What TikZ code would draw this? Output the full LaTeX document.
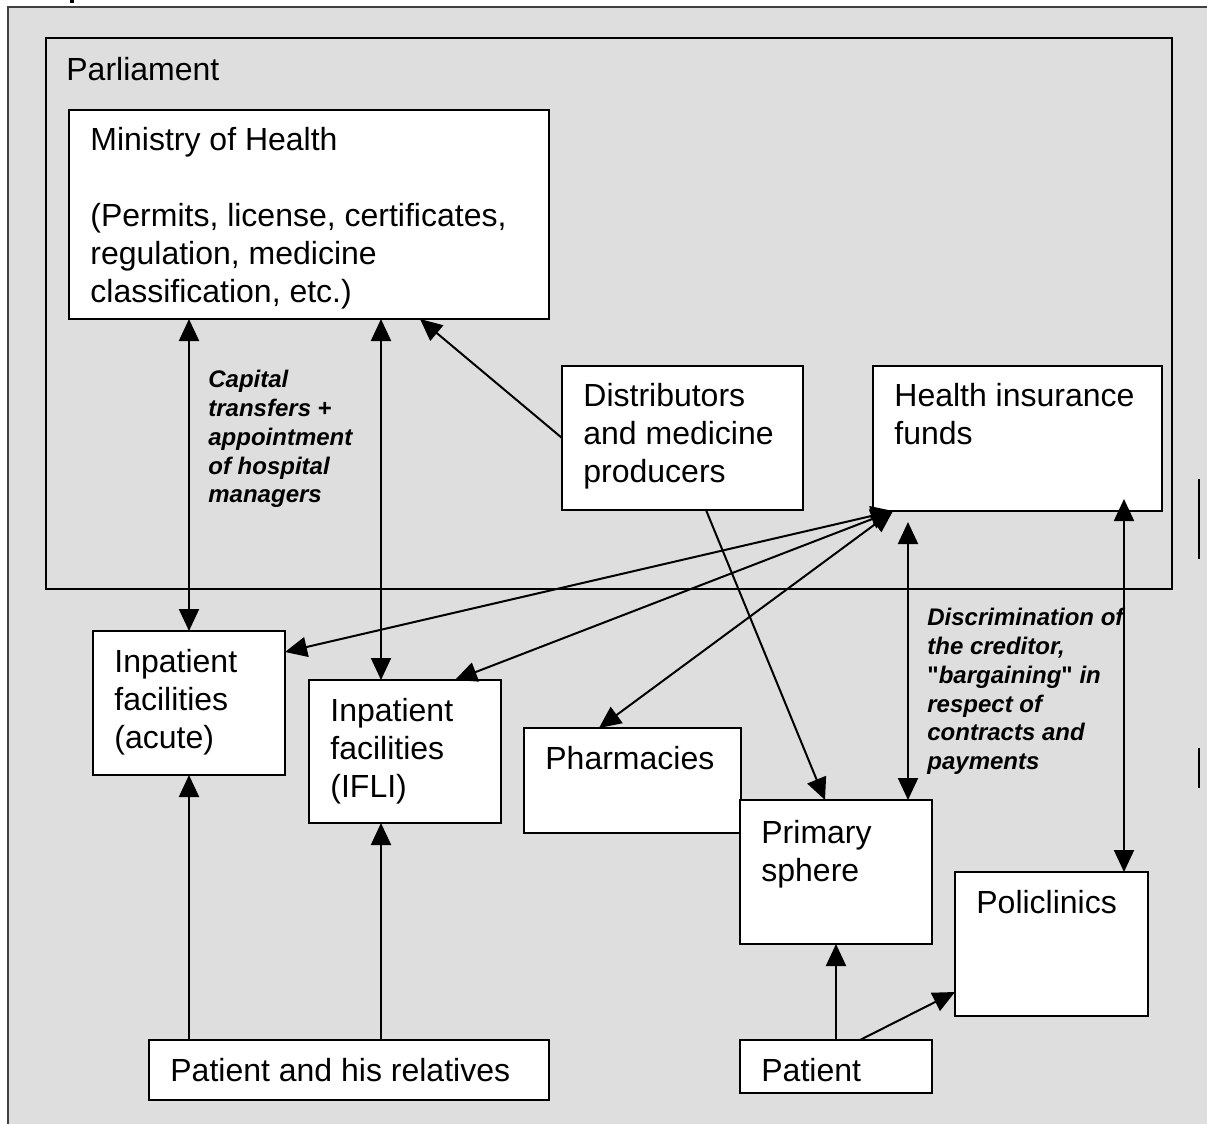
\documentclass[tikz,border=0pt]{standalone}
\usepackage{fontspec}
\setmainfont{Liberation Sans}
\usetikzlibrary{arrows.meta,calc}
\definecolor{bggray}{RGB}{222,222,222}
\definecolor{framegray}{RGB}{64,64,64}
\begin{document}
\begin{tikzpicture}[x=0.5pt,y=-0.5pt,
  box/.style={draw=black, line width=1pt, fill=white, anchor=north west, inner sep=0pt, outer sep=0pt},
  txt/.style={font=\fontsize{16}{19}\selectfont, align=left, inner sep=0pt, anchor=north west},
  lbl/.style={font=\fontsize{12}{14.4}\selectfont\bfseries\itshape, align=left, inner sep=0pt, anchor=north west},
  conn/.style={line width=1pt, draw=black},
  tip/.style={-{Triangle[length=11pt,width=10pt]}},
  dtip/.style={{Triangle[length=11pt,width=10pt]}-{Triangle[length=11pt,width=10pt]}}]
\useasboundingbox (0,0) rectangle (1207,1124);
\clip (0,0) rectangle (1207,1124);
% outer frame
\fill[white] (0,0) rectangle (1207,1124);
\draw[fill=bggray, draw=framegray, line width=1pt] (8,7) rectangle (1230,1150);
\fill[black] (70,0) rectangle (74,3);
% right-edge marks
\draw[line width=1pt] (1199,479) -- (1199,559);
\draw[line width=1pt] (1199,748) -- (1199,788);
% Parliament
\node[box, fill=none, minimum width=563pt, minimum height=275.5pt] (parl) at (46,38) {};
\node[txt] (parlt) at (66,57) {Parliament};
% boxes
\node[box, minimum width=240pt, minimum height=104.5pt] (moh) at (69,110) {};
\node[txt] (moht) at (90,127) {Ministry of Health\\[19pt](Permits, license, certificates,\\regulation, medicine\\classification, etc.)};
\node[box, minimum width=120.5pt, minimum height=72pt] (dist) at (562,366) {};
\node[txt] (distt) at (583,383) {Distributors\\and medicine\\producers};
\node[box, minimum width=144.5pt, minimum height=72.5pt] (hif) at (873,366) {};
\node[txt] (hift) at (894,383) {Health insurance\\funds};
\node[box, minimum width=96pt, minimum height=72pt] (acute) at (93,631) {};
\node[txt] (acutet) at (114,649) {Inpatient\\facilities\\(acute)};
\node[box, minimum width=96pt, minimum height=71.5pt] (ifli) at (309,680) {};
\node[txt] (iflit) at (330,698) {Inpatient\\facilities\\(IFLI)};
\node[box, minimum width=108.5pt, minimum height=52.5pt] (pharm) at (524,728) {};
\node[txt] (pharmt) at (545,746) {Pharmacies};
\node[box, minimum width=96pt, minimum height=72pt] (prim) at (740,800) {};
\node[txt] (primt) at (761,820) {Primary\\sphere};
\node[box, minimum width=96.5pt, minimum height=72pt] (pol) at (955,872) {};
\node[txt] (polt) at (976,890) {Policlinics};
\node[box, minimum width=200pt, minimum height=30pt] (pahr) at (149,1040) {};
\node[txt] (pahrt) at (170,1058) {Patient and his relatives};
\node[box, minimum width=96pt, minimum height=26.5pt] (pat) at (740,1040) {};
\node[txt] (patt) at (761,1058) {Patient};
% labels
\node[lbl] (capl) at (208,370) {Capital\\transfers {\upshape+}\\appointment\\of hospital\\managers};
\node[lbl] (discl) at (927,608) {Discrimination of\\the creditor,\\{\upshape\textquotedbl}bargaining{\upshape\textquotedbl} in\\respect of\\contracts and\\payments};
% coordinates
\coordinate (i1) at ($(ifli.north west)+(72,0)$);
\coordinate (hifc) at ($(hif.south west)+(20,0)$);
\coordinate (mohin) at ($(moh.south west)+(351,0)$);
\coordinate (distb) at ($(dist.south west)+(144,0)$);
\coordinate (primt) at ($(prim.north west)+(85,0)$);
\coordinate (hifp) at ($(hif.south west)+(35,11)$);
\coordinate (hifq) at ($(hif.south east)+(-38,-12)$);
\coordinate (patr) at ($(pat.north west)+(120,0)$);
% connectors
\draw[conn,dtip] (acute.north |- moh.south) -- (acute.north);
\draw[conn,dtip] (i1 |- moh.south) -- (i1);
\draw[conn,tip] (dist.west) -- (mohin);
\draw[conn,dtip] (hifc) -- ($(acute.north east)+(0,21)$);
\draw[conn,dtip] (hifc) -- ($(ifli.north west)+(146,0)$);
\draw[conn,dtip] (hifc) -- ($(pharm.north west)+(75,0)$);
\draw[conn,tip] (distb) -- (primt);
\draw[conn,dtip] (hifp) -- (prim.north -| hifp);
\draw[conn,dtip] (hifq) -- (pol.north -| hifq);
\draw[conn,tip] (pahr.north -| acute.south) -- (acute.south);
\draw[conn,tip] (pahr.north -| i1) -- (ifli.south -| i1);
\draw[conn,tip] (pat.north) -- (prim.south);
\draw[conn,tip] (patr) -- ($(pol.south west)+(0,-24)$);
\end{tikzpicture}
\end{document}
